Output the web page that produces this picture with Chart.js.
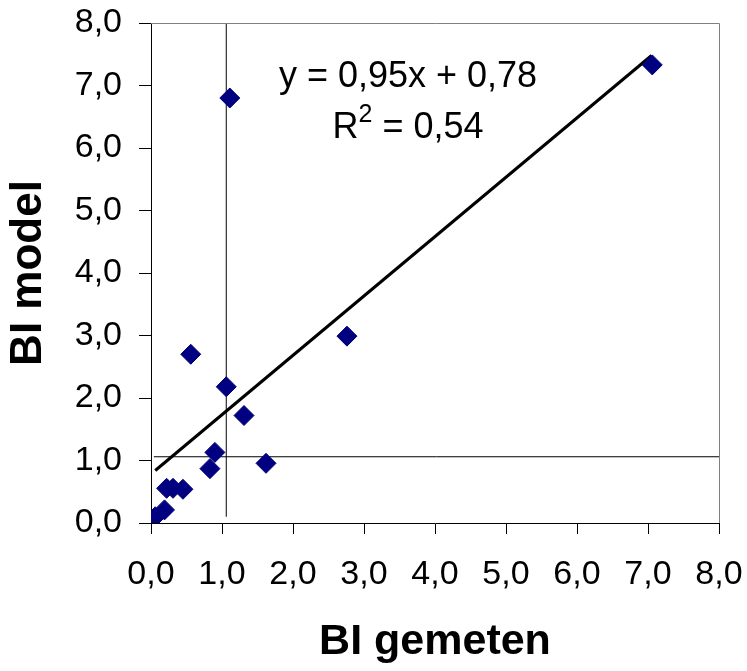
<!DOCTYPE html>
<html><head><meta charset="utf-8">
<script src="https://cdn.jsdelivr.net/npm/chart.js@4.4.0/dist/chart.umd.min.js"></script>
<style>html,body{margin:0;padding:0;background:#fff}#wrap{width:747px;height:671px}</style>
</head><body><div id="wrap"><canvas id="c" width="747" height="671"></canvas></div>
<script>
// ---- data ----
const xTickLabels = ['0,0','1,0','2,0','3,0','4,0','5,0','6,0','7,0','8,0'];
const yTickLabels = ['0,0','1,0','2,0','3,0','4,0','5,0','6,0','7,0','8,0'];
const biGemeten = [0.56, 1.06, 1.31, 0.90, 0.83, 1.62, 0.22, 0.31, 0.45, 0.19, 0.06, 1.11, 7.06, 2.76];
const biModel   = [2.70, 2.18, 1.72, 1.13, 0.87, 0.955, 0.555, 0.555, 0.54, 0.21, 0.10, 6.80, 7.33, 2.99];
const trendX = [0.06, 7.05];
const trendY = [0.84, 7.48];
const vLineX = [1.06, 1.06];
const vLineY = [0.10, 8.0];
const hLineX = [0.04, 8.0];
const hLineY = [1.06, 1.06];
const eqLine1 = 'y = 0,95x + 0,78';
const eqR = 'R', eqSup = '2', eqLine2 = ' = 0,54';

const FONT = '"Liberation Sans", Arial, Helvetica, sans-serif';
Chart.defaults.font.family = FONT;
Chart.defaults.color = '#000';

const pts = (xs, ys) => xs.map((x, i) => ({x, y: ys[i]}));

const frameAndText = {
  id: 'frameAndText',
  afterDraw(chart) {
    const {ctx, chartArea: a, scales: {x, y}} = chart;
    ctx.save();
    ctx.strokeStyle = '#808080';
    ctx.lineWidth = 1;
    ctx.beginPath();
    ctx.moveTo(a.left, Math.round(a.top) + 0.5);
    ctx.lineTo(Math.round(a.right) + 0.5, Math.round(a.top) + 0.5);
    ctx.lineTo(Math.round(a.right) + 0.5, a.bottom);
    ctx.stroke();
    // regression equation
    ctx.fillStyle = '#000';
    ctx.textBaseline = 'middle';
    ctx.textAlign = 'center';
    ctx.font = '36px ' + FONT;
    const cx = x.getPixelForValue(3.62);
    ctx.fillText(eqLine1, cx, y.getPixelForValue(7.13));
    const y2 = y.getPixelForValue(6.32);
    ctx.textAlign = 'left';
    const wR = ctx.measureText(eqR).width;
    const wRest = ctx.measureText(eqLine2).width;
    ctx.font = '25px ' + FONT;
    const wSup = ctx.measureText(eqSup).width;
    let sx = cx - (wR + wSup + wRest) / 2;
    ctx.font = '36px ' + FONT;
    ctx.fillText(eqR, sx, y2);
    ctx.font = '25px ' + FONT;
    ctx.fillText(eqSup, sx + wR, y2 - 13);
    ctx.font = '36px ' + FONT;
    ctx.fillText(eqLine2, sx + wR + wSup, y2);
    ctx.restore();
  }
};

new Chart(document.getElementById('c'), {
  type: 'scatter',
  data: {
    datasets: [
      {
        label: 'BI',
        data: pts(biGemeten, biModel),
        pointStyle: 'rectRot',
        pointRadius: 10,
        backgroundColor: '#000080',
        borderColor: '#000080',
        borderWidth: 1,
        order: 0
      },
      {
        label: 'trend',
        data: pts(trendX, trendY),
        showLine: true,
        borderColor: '#000',
        borderWidth: 3,
        pointRadius: 0,
        order: 1
      },
      {
        label: 'v',
        data: pts(vLineX, vLineY),
        showLine: true,
        borderColor: '#000',
        borderWidth: 1,
        pointRadius: 0,
        order: 2
      },
      {
        label: 'h',
        data: pts(hLineX, hLineY),
        showLine: true,
        borderColor: '#000',
        borderWidth: 1,
        pointRadius: 0,
        order: 3
      }
    ]
  },
  options: {
    responsive: false,
    animation: false,
    events: [],
    layout: {padding: {top: 23, right: 28, left: 0, bottom: 0}},
    plugins: {legend: {display: false}, tooltip: {enabled: false}},
    scales: {
      x: {
        type: 'linear', min: 0, max: 8,
        afterFit(s) { s.height = 148; s.paddingLeft = 0; s.paddingRight = 0; },
        ticks: {stepSize: 1, padding: 20, font: {size: 34}, color: '#000',
          callback: (v, i) => xTickLabels[i]},
        grid: {display: true, drawOnChartArea: false, drawTicks: true, tickLength: 11, color: '#000'},
        border: {display: true, color: '#000', width: 1},
        title: {display: true, text: 'BI gemeten', color: '#000',
          font: {size: 43, weight: 'bold', lineHeight: 1.2}, padding: {top: 0, bottom: 3}}
      },
      y: {
        type: 'linear', min: 0, max: 8,
        afterFit(s) { s.width = 151; s.paddingTop = 0; s.paddingBottom = 0; },
        ticks: {stepSize: 1, padding: 17, font: {size: 34}, color: '#000',
          callback: (v, i) => yTickLabels[i]},
        grid: {display: true, drawOnChartArea: false, drawTicks: true, tickLength: 12, color: '#000'},
        border: {display: true, color: '#000', width: 1},
        title: {display: true, text: 'BI model', color: '#000',
          font: {size: 44, weight: 'bold', lineHeight: 1.2}, padding: {top: 2, bottom: 0}}
      }
    }
  },
  plugins: [frameAndText]
});
</script>
</body></html>
